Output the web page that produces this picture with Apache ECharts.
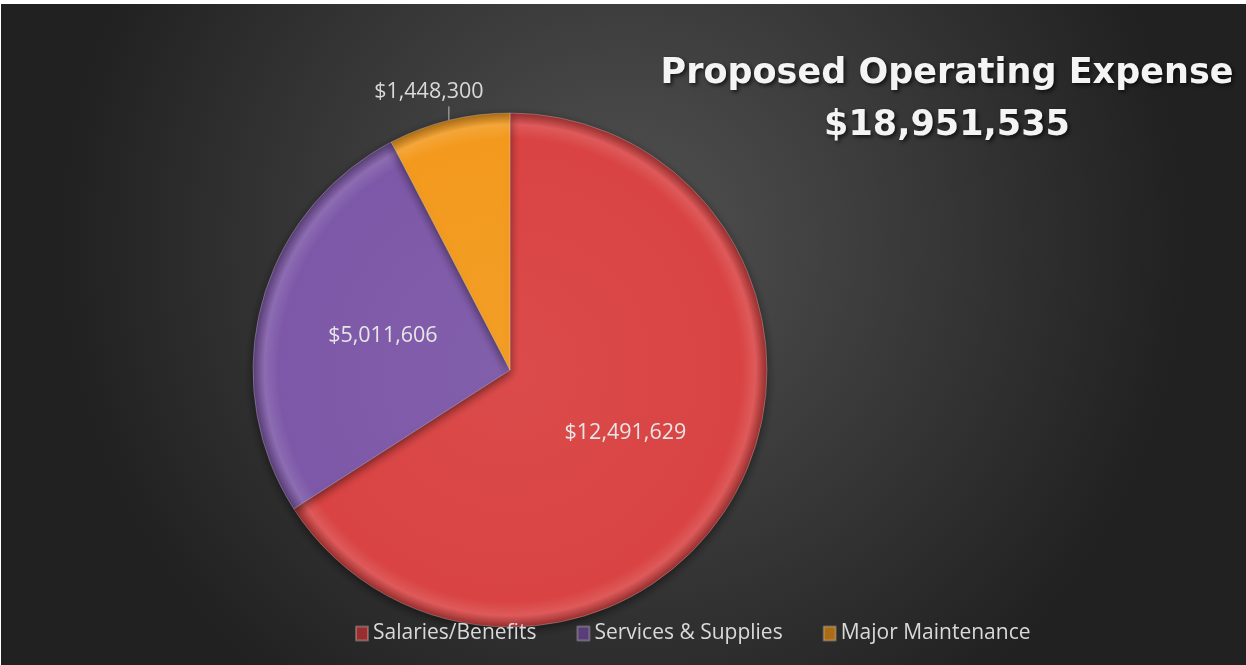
<!DOCTYPE html>
<html>
<head>
<meta charset="utf-8">
<script src="https://cdn.jsdelivr.net/npm/echarts@6/dist/echarts.min.js"></script>
<style>
  html, body { margin: 0; padding: 0; background: #fff; }
  #chart { position: absolute; left: 1px; top: 4px; width: 1245px; height: 661px; }
</style>
</head>
<body>
<div id="chart"></div>
<script>
// data
const categories = ['Salaries/Benefits', 'Services & Supplies', 'Major Maintenance']
const values = [12491629, 5011606, 1448300]
const colors = ['#d94343', '#7d58a8', '#f39a1e']
const titleLines = ['Proposed Operating Expense', '$18,951,535']

const fmt = v => '$' + v.toLocaleString('en-US')

const el = document.getElementById('chart')
const myChart = echarts.init(el)
const cx = 509, cy = 366, R = 257

function shade(hex, k) {
  const n = parseInt(hex.slice(1), 16)
  let r = n >> 16, g = (n >> 8) & 255, b = n & 255
  const f = c => Math.max(0, Math.min(255, Math.round(k > 0 ? c + (255 - c) * k : c * (1 + k))))
  return 'rgb(' + f(r) + ',' + f(g) + ',' + f(b) + ')'
}

function sliceFill(c) {
  return new echarts.graphic.RadialGradient(cx, cy, R, [
    { offset: 0, color: shade(c, 0.04) },
    { offset: 0.9, color: c },
    { offset: 0.955, color: shade(c, 0.12) },
    { offset: 1, color: shade(c, -0.3) }
  ], true)
}

myChart.setOption({
  backgroundColor: new echarts.graphic.RadialGradient(0.5, 0.36, 0.85, [
    { offset: 0, color: '#525252' },
    { offset: 1, color: '#212121' }
  ]),
  title: {
    text: titleLines.join('\n'),
    left: 941,
    top: 39,
    textAlign: 'center',
    textStyle: {
      color: '#f4f4f4',
      fontFamily: 'DejaVu Sans',
      fontWeight: 'bold',
      fontSize: 35,
      lineHeight: 52,
      textShadowColor: 'rgba(0,0,0,0.7)',
      textShadowBlur: 4,
      textShadowOffsetX: 2,
      textShadowOffsetY: 2
    }
  },
  legend: {
    top: 614,
    left: 349,
    itemWidth: 12,
    itemHeight: 14,
    itemGap: 40,
    icon: 'rect',
    textStyle: { color: '#d9d9d9', fontSize: 21, fontFamily: 'Open Sans' },
    data: categories
  },
  series: [
    {
      type: 'pie',
      center: [cx, cy],
      radius: R,
      startAngle: 90,
      clockwise: true,
      animation: false,
      label: {
        show: true,
        position: 'inside',
        color: '#e6e6e6',
        fontSize: 21.5,
        fontFamily: 'Open Sans',
        formatter: p => fmt(p.value)
      },
      labelLine: { show: false },
      labelLayout: function (params) {
        // small slice: put label straight above a short vertical leader line
        if (params.dataIndex !== 2 || !params.labelLinePoints) return
        const p0 = params.labelLinePoints[0]
        const top = [p0[0], p0[1] - 14]
        return {
          x: p0[0] - 20,
          y: p0[1] - 28,
          align: 'center',
          verticalAlign: 'middle',
          labelLinePoints: [p0, top, top]
        }
      },
      itemStyle: {
        borderColor: 'rgba(255,255,255,0.25)',
        borderWidth: 1,
        shadowBlur: 10,
        shadowColor: 'rgba(0,0,0,0.5)',
        shadowOffsetY: 3
      },
      data: categories.map((name, i) => ({
        name: name,
        value: values[i],
        itemStyle: { color: sliceFill(colors[i]) },
        label: i === 2 ? { position: 'outside', color: '#d9d9d9' } : undefined,
        labelLine: i === 2 ? { show: true, length: 14, length2: 0, lineStyle: { color: '#bfbfbf', width: 1 } } : undefined
      }))
    }
  ],
  color: colors
})
</script>
</body>
</html>
